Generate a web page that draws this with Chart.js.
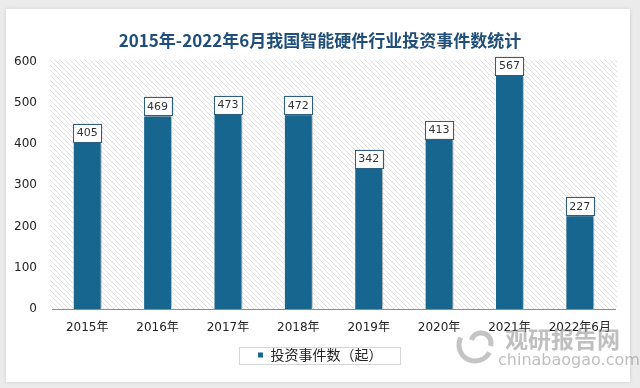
<!DOCTYPE html>
<html>
<head>
<meta charset="utf-8">
<script src="https://cdn.jsdelivr.net/npm/chart.js@4/dist/chart.umd.min.js"></script>
<style>
  html, body { margin: 0; padding: 0; background: #ebebeb; }
  #wrap { width: 640px; height: 388px; }
</style>
</head>
<body>
<div id="wrap"><canvas id="investChart" width="640" height="388"></canvas></div>
<script>
// data
const years = ["2015年", "2016年", "2017年", "2018年", "2019年", "2020年", "2021年", "2022年6月"];
const deals = [405, 469, 473, 472, 342, 413, 567, 227];
const yTicks = [0, 100, 200, 300, 400, 500, 600];

const BAR = "#17668f";
const FONT = "'DejaVu Sans', 'Noto Sans CJK SC', sans-serif";
const CJK = "'Noto Sans CJK SC', sans-serif";

// card + hatched plot background
const backdrop = {
  id: "backdrop",
  beforeDraw(chart) {
    const { ctx, chartArea: a } = chart;
    ctx.save();
    ctx.fillStyle = "#ebebeb";
    ctx.fillRect(0, 0, chart.width, chart.height);
    ctx.shadowColor = "rgba(0,0,0,0.12)";
    ctx.shadowBlur = 4;
    ctx.fillStyle = "#ffffff";
    ctx.fillRect(6, 9, 624, 373);
    ctx.shadowColor = "transparent";

    // diagonal hatch
    const p = document.createElement("canvas");
    p.width = 5; p.height = 5;
    const pc = p.getContext("2d");
    pc.fillStyle = "#ffffff";
    pc.fillRect(0, 0, 5, 5);
    pc.strokeStyle = "#e2e2e2";
    pc.lineWidth = 1;
    pc.beginPath();
    pc.moveTo(0, 0); pc.lineTo(5, 5);
    pc.moveTo(-1, 4); pc.lineTo(1, 6);
    pc.moveTo(4, -1); pc.lineTo(6, 1);
    pc.stroke();
    ctx.fillStyle = ctx.createPattern(p, "repeat");
    ctx.fillRect(a.left - 2, a.top - 2, a.right - a.left + 4, a.bottom - a.top + 2);
    ctx.restore();
  }
};

// soft shadow on the bars
const barShadow = {
  id: "barShadow",
  beforeDatasetDraw(chart) {
    const ctx = chart.ctx;
    ctx.save();
    ctx.shadowColor = "rgba(0,0,0,0.3)";
    ctx.shadowBlur = 4;
    ctx.shadowOffsetX = 3;
    ctx.shadowOffsetY = 0;
  },
  afterDatasetDraw(chart) {
    chart.ctx.restore();
  }
};

// boxed value labels, legend frame and watermark
const overlay = {
  id: "overlay",
  afterDatasetsDraw(chart) {
    const ctx = chart.ctx;
    const meta = chart.getDatasetMeta(0);
    ctx.save();
    ctx.font = "11px " + FONT;
    ctx.textAlign = "center";
    ctx.textBaseline = "middle";
    meta.data.forEach((bar, i) => {
      const w = 28, h = 18;
      const cx = bar.x, cy = bar.y - 9;
      ctx.shadowColor = "rgba(0,0,0,0.2)";
      ctx.shadowBlur = 2;
      ctx.shadowOffsetX = 1;
      ctx.fillStyle = "#ffffff";
      ctx.fillRect(cx - w / 2, cy - h / 2, w, h);
      ctx.shadowColor = "transparent";
      ctx.strokeStyle = "#2f5f7f";
      ctx.lineWidth = 1;
      ctx.strokeRect(Math.round(cx - w / 2) + 0.5, Math.round(cy - h / 2) + 0.5, w, h);
      ctx.fillStyle = "#333333";
      ctx.fillText(deals[i], cx, cy + 0.5);
    });
    ctx.restore();
  },
  afterDraw(chart) {
    const ctx = chart.ctx;
    ctx.save();
    const hb = chart.legend.legendHitBoxes[0];
    if (hb) {
      ctx.strokeStyle = "#d6d6d6";
      ctx.lineWidth = 1;
      ctx.strokeRect(Math.round(hb.left - 19) + 0.5, Math.round(hb.top + hb.height / 2 - 8) + 0.5,
        Math.round(hb.width + 36), 17);
    }

    // watermark
    ctx.globalAlpha = 0.5;
    ctx.strokeStyle = "#8a8a8a";
    ctx.lineWidth = 5;
    ctx.beginPath();
    ctx.arc(475, 345, 16, Math.PI * 0.15, Math.PI * 1.15);
    ctx.stroke();
    ctx.beginPath();
    ctx.arc(481, 343, 10, Math.PI * 1.1, Math.PI * 2.1);
    ctx.stroke();
    ctx.fillStyle = "#808080";
    ctx.font = "bold 23px " + CJK;
    ctx.textAlign = "left";
    ctx.textBaseline = "middle";
    ctx.fillText("观研报告网", 505, 339);
    ctx.font = "16px " + FONT;
    ctx.fillText("chinabaogao.com", 498, 361);
    ctx.restore();
  }
};

new Chart(document.getElementById("investChart"), {
  type: "bar",
  data: {
    labels: years,
    datasets: [{
      label: "投资事件数（起）",
      data: deals,
      backgroundColor: BAR,
      borderColor: "#ffffff",
      borderWidth: 1,
      barPercentage: 0.41,
      categoryPercentage: 1
    }]
  },
  options: {
    responsive: false,
    animation: false,
    layout: { padding: { left: 0, right: 0, top: 0, bottom: 16 } },
    scales: {
      x: {
        grid: { display: true, drawOnChartArea: false, drawTicks: false },
        border: { display: true, color: "#8c8c8c" },
        ticks: { color: "#222", font: { size: 12, family: FONT }, padding: 12, maxRotation: 0, autoSkip: false },
        afterFit(s) { s.height = 29; }
      },
      y: {
        min: 0,
        max: 600,
        afterBuildTicks(s) { s.ticks = yTicks.map(v => ({ value: v })); },
        grid: { display: false, drawTicks: false },
        border: { display: false },
        ticks: { color: "#222", font: { size: 12, family: FONT }, padding: 15 },
        afterFit(s) { s.width = 52; }
      },
      // empty right-hand axis keeps the plot clear of the card edge
      yRight: {
        position: "right",
        display: true,
        grid: { display: false, drawTicks: false },
        border: { display: false },
        ticks: { display: false },
        afterFit(s) { s.width = 25; }
      }
    },
    plugins: {
      title: {
        display: true,
        text: "2015年-2022年6月我国智能硬件行业投资事件数统计",
        color: "#1f4e79",
        font: { size: 17, weight: "bold", family: CJK },
        padding: { top: 30, bottom: 11 }
      },
      legend: {
        position: "bottom",
        labels: {
          color: "#222",
          font: { size: 14, family: CJK },
          boxWidth: 6,
          boxHeight: 6,
          padding: 10
        }
      },
      tooltip: { enabled: false }
    }
  },
  plugins: [backdrop, barShadow, overlay]
});
</script>
</body>
</html>
